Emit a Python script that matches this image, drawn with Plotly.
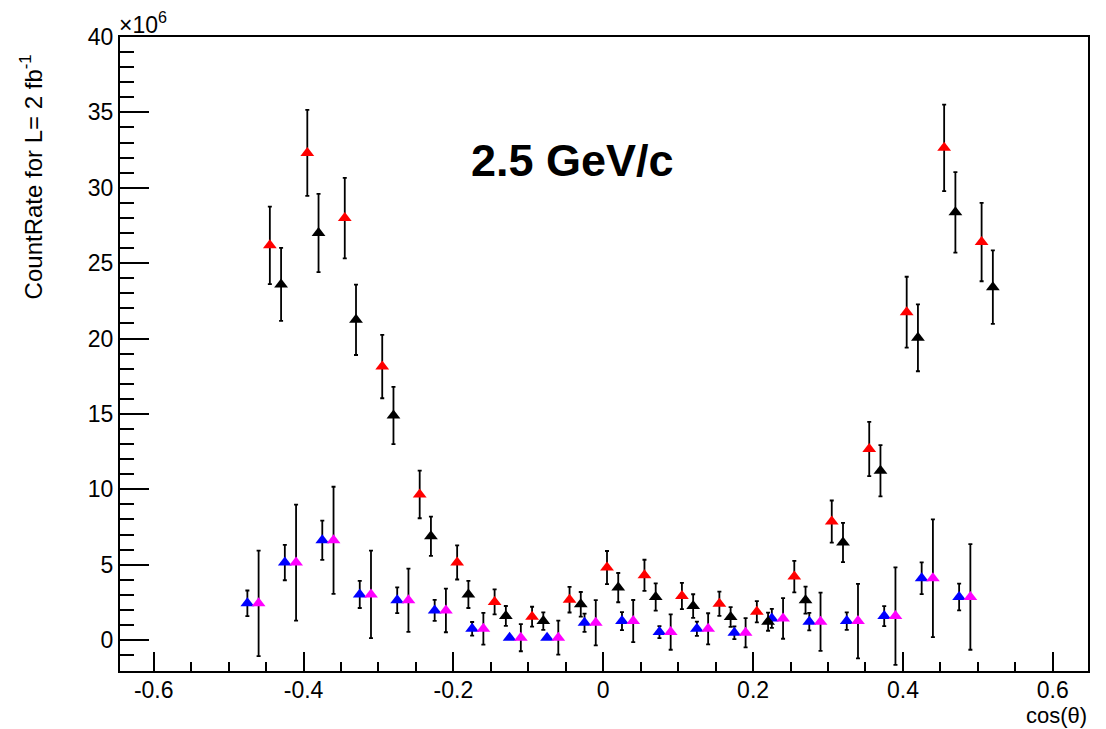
import plotly.graph_objects as go

# ---- data (values in units of 10^6) ----
bin_centers = [-0.475 + 0.05 * k for k in range(20)]
offsets = {"blue": 0.0, "magenta": 0.015, "red": 0.03, "black": 0.045}

blue_vals = [2.44, 5.14, 6.62, 3.03, 2.64, 1.97, 0.75, 0.16, 0.16, 1.15,
             1.26, 0.53, 0.75, 0.49, 1.44, 1.22, 1.26, 1.59, 4.10, 2.86]
blue_errs = [0.85, 1.17, 1.30, 0.90, 0.85, 0.70, 0.45, 0.10, 0.10, 0.60,
             0.60, 0.40, 0.47, 0.42, 0.63, 0.58, 0.58, 0.66, 1.05, 0.89]

magenta_vals = [2.44, 5.14, 6.62, 3.03, 2.64, 1.97, 0.75, 0.16, 0.16, 1.15,
                1.26, 0.53, 0.75, 0.49, 1.44, 1.22, 1.26, 1.59, 4.10, 2.86]
magenta_errs = [3.50, 3.85, 3.55, 2.90, 2.10, 1.45, 1.05, 0.90, 1.13, 1.50,
                1.40, 1.17, 1.03, 0.97, 1.35, 1.93, 2.47, 3.23, 3.90, 3.50]

red_vals = [26.18, 32.31, 27.99, 18.14, 9.66, 5.15, 2.53, 1.55, 2.68, 4.81,
            4.30, 2.92, 2.41, 1.88, 4.21, 7.86, 12.67, 21.75, 32.65, 26.40]
red_errs = [2.57, 2.85, 2.67, 2.10, 1.58, 1.13, 0.83, 0.66, 0.85, 1.10,
            1.03, 0.87, 0.80, 0.70, 1.05, 1.40, 1.80, 2.35, 2.87, 2.60]

black_vals = [23.59, 27.00, 21.24, 14.90, 6.89, 3.03, 1.60, 1.26, 2.37, 3.48,
              2.86, 2.26, 1.53, 1.22, 2.65, 6.47, 11.23, 20.05, 28.37, 23.41]
black_errs = [2.42, 2.60, 2.33, 1.90, 1.30, 0.90, 0.66, 0.58, 0.82, 0.97,
              0.90, 0.78, 0.65, 0.60, 0.90, 1.30, 1.70, 2.22, 2.67, 2.44]

x_tickvals = [-0.6, -0.4, -0.2, 0.0, 0.2, 0.4, 0.6]
x_ticktext = ["-0.6", "-0.4", "-0.2", "0", "0.2", "0.4", "0.6"]
y_tickvals = [0, 5, 10, 15, 20, 25, 30, 35, 40]
y_ticktext = ["0", "5", "10", "15", "20", "25", "30", "35", "40"]

FONT = "Liberation Sans, Arial, Helvetica, sans-serif"

fig = go.Figure()
series = [
    ("blue", blue_vals, blue_errs, "#0000ff"),
    ("magenta", magenta_vals, magenta_errs, "#ff00ff"),
    ("red", red_vals, red_errs, "#ff0000"),
    ("black", black_vals, black_errs, "#000000"),
]
for name, vals, errs, col in series:
    xs = [c + offsets[name] for c in bin_centers]
    fig.add_trace(go.Scatter(
        x=xs, y=vals, mode="markers", name=name, showlegend=False,
        marker=dict(symbol="triangle-up", size=12, color=col, line=dict(width=0)),
        error_y=dict(type="data", array=errs, visible=True, color="black",
                     thickness=1.8, width=2),
    ))

# page body has an 8px margin, so the figure is 8px smaller and margins shifted
fig.update_layout(
    width=1098, height=721,
    margin=dict(l=112, r=18, t=29, b=58, autoexpand=False),
    plot_bgcolor="white", paper_bgcolor="white",
    font=dict(family=FONT, color="black"),
)
fig.update_xaxes(
    range=[-0.645, 0.647], tickvals=x_tickvals, ticktext=x_ticktext,
    ticks="inside", ticklen=19, tickwidth=1.5, tickcolor="black",
    minor=dict(dtick=0.05, tick0=0, ticks="inside", ticklen=9, tickwidth=1.5, tickcolor="black"),
    showgrid=False, zeroline=False, showline=True, mirror=True, automargin=False,
    linecolor="black", linewidth=2, tickfont=dict(size=23, family=FONT),
    ticklabelstandoff=-3,
)
fig.update_yaxes(
    range=[-2.05, 40], tickvals=y_tickvals, ticktext=y_ticktext,
    ticks="inside", ticklen=29, tickwidth=1.5, tickcolor="black",
    minor=dict(dtick=1, tick0=0, ticks="inside", ticklen=14, tickwidth=1.5, tickcolor="black"),
    showgrid=False, zeroline=False, showline=True, mirror=True, automargin=False,
    linecolor="black", linewidth=2, tickfont=dict(size=23, family=FONT),
)

fig.add_annotation(text="CountRate for L= 2 fb<sup>-1</sup>", textangle=-90,
                   xref="paper", yref="paper", x=-0.091, y=0.78,
                   xanchor="center", yanchor="middle", showarrow=False,
                   font=dict(size=24, family=FONT))
fig.add_annotation(text="cos(θ)", xref="paper", yref="paper", x=1.0, y=-0.049,
                   xanchor="right", yanchor="top", showarrow=False, borderpad=0,
                   font=dict(size=22, family=FONT))
fig.add_annotation(text="×10<sup>6</sup>", xref="paper", yref="paper", x=-0.003, y=0.995,
                   xanchor="left", yanchor="bottom", showarrow=False,
                   font=dict(size=23, family=FONT))
fig.add_annotation(text="<b>2.5 GeV/c</b>", xref="x", yref="y", x=-0.041, y=31.8,
                   xanchor="center", yanchor="middle", showarrow=False,
                   font=dict(size=45, family=FONT))

fig.write_html("out.html")
